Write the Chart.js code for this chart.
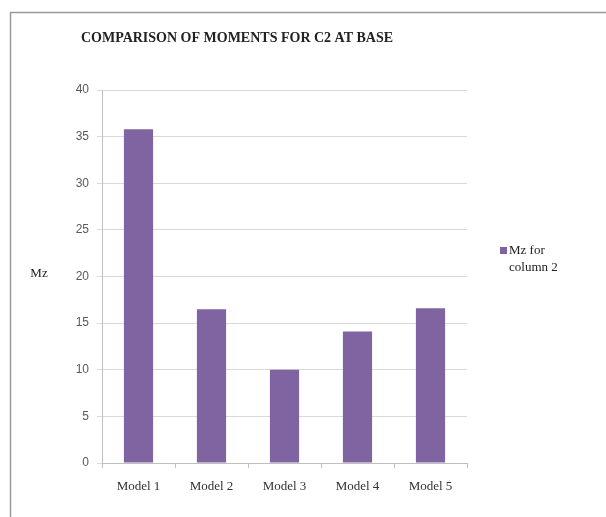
<!DOCTYPE html>
<html>
<head>
<meta charset="utf-8">
<script src="https://cdn.jsdelivr.net/npm/chart.js@4"></script>
<style>
  body { margin: 0; background: #fff; }
  #wrap { width: 606px; height: 517px; }
</style>
</head>
<body>
<div id="wrap"><canvas id="momentChart" width="606" height="517"></canvas></div>
<script>
const models = ["Model 1", "Model 2", "Model 3", "Model 4", "Model 5"];
const mzValues = [35.8, 16.5, 10.0, 14.1, 16.6];
const seriesName = ["Mz for", "column 2"];
const chartTitle = "COMPARISON OF MOMENTS FOR C2 AT BASE";
const yLabel = "Mz";

const barColor = "#8064a2";

// frame, title, axis label and legend drawn on the canvas
const extras = {
  id: "extras",
  afterDraw(chart) {
    const ctx = chart.ctx;
    ctx.save();
    ctx.strokeStyle = "#9a9a9a";
    ctx.lineWidth = 1.5;
    ctx.strokeRect(10.5, 12.5, 700, 600);

    ctx.fillStyle = "#222";
    ctx.font = "bold 14px 'Liberation Serif', serif";
    ctx.textAlign = "center";
    ctx.textBaseline = "middle";
    ctx.fillText(chartTitle, 237, 38);

    ctx.font = "13px 'Liberation Serif', serif";
    ctx.fillText(yLabel, 39, 274);

    // legend
    ctx.fillStyle = barColor;
    ctx.fillRect(500, 247, 7, 7);
    ctx.fillStyle = "#222";
    ctx.textAlign = "left";
    ctx.fillText(seriesName[0], 509, 251);
    ctx.fillText(seriesName[1], 509, 268);
    ctx.restore();
  },
};

const ctxMoments = document.getElementById("momentChart").getContext("2d");
new Chart(ctxMoments, {
  type: "bar",
  data: {
    labels: models,
    datasets: [
      {
        label: seriesName.join(" "),
        data: mzValues,
        backgroundColor: barColor,
        borderWidth: 0,
        barPercentage: 0.4,
        categoryPercentage: 1,
      },
    ],
  },
  options: {
    responsive: false,
    animation: false,
    layout: {
      padding: { left: 0, right: 139, top: 90, bottom: 14 },
    },
    plugins: {
      legend: { display: false },
      title: { display: false },
      tooltip: { enabled: false },
    },
    scales: {
      x: {
        afterFit: (scale) => { scale.height = 40; },
        border: { color: "#bfbfbf" },
        grid: {
          offset: true,
          drawOnChartArea: false,
          tickLength: 5,
          color: "#bfbfbf",
        },
        ticks: {
          color: "#333",
          font: { family: "'Liberation Serif', serif", size: 13 },
          padding: 11,
        },
      },
      y: {
        min: 0,
        max: 40,
        afterFit: (scale) => { scale.width = 102; },
        border: { color: "#bfbfbf" },
        grid: {
          color: "#d9d9d9",
          tickLength: 5,
        },
        ticks: {
          stepSize: 5,
          color: "#595959",
          font: { family: "'Liberation Sans', sans-serif", size: 12 },
          padding: 8,
        },
      },
    },
  },
  plugins: [extras],
});
</script>
</body>
</html>
